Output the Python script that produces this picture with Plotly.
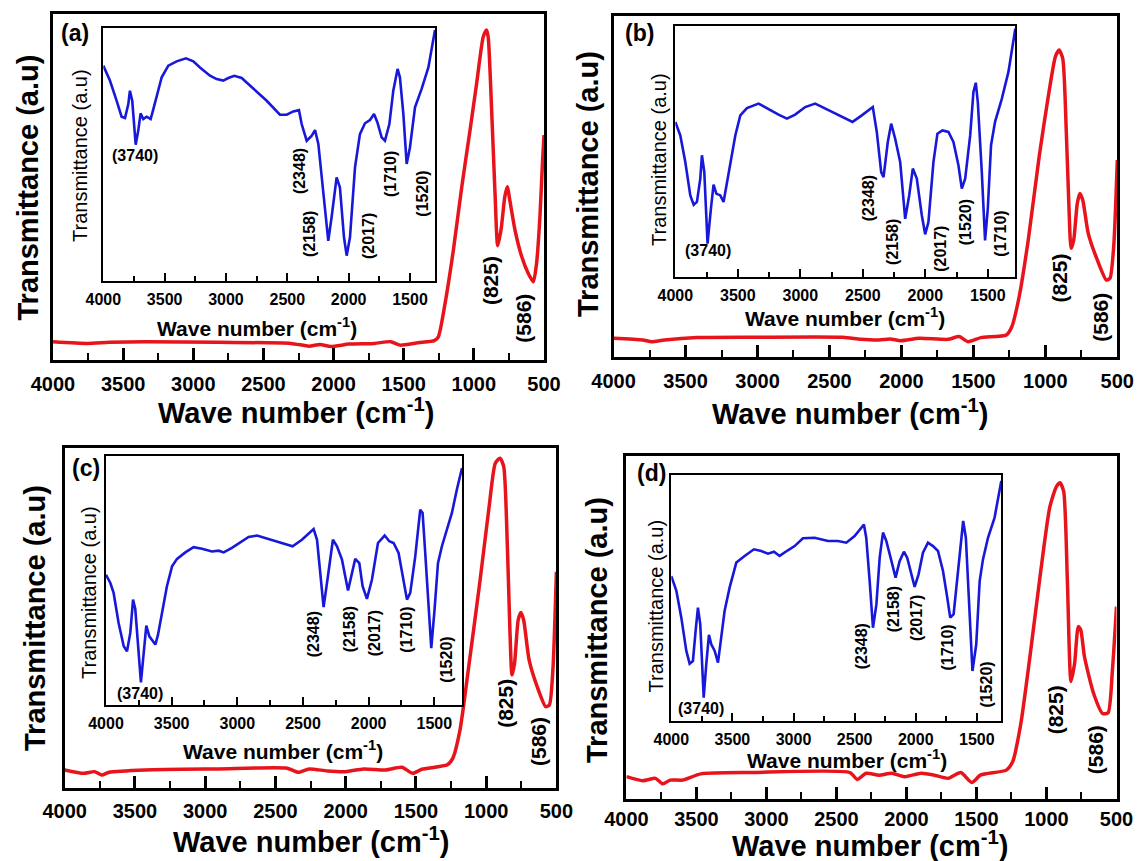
import plotly.graph_objects as go

FONT = "Liberation Sans, Arial, Helvetica, sans-serif"
W, H = 1138, 861
RED = "rgb(232,20,28)"
BLUE = "rgb(24,24,218)"

main_ticks = [4000, 3500, 3000, 2500, 2000, 1500, 1000, 500]
inset_ticks = [4000, 3500, 3000, 2500, 2000, 1500]

# ---------------- Panel (a) ----------------
a_main_wn = [4000, 3754, 3599, 3340, 2822, 2304, 2175, 2097, 2019, 1890, 1709, 1592, 1527, 1398, 1282,
             1253, 1205, 1146, 1086, 1027, 980, 933, 909, 897, 873, 849, 830, 805, 780, 762, 743, 707,
             659, 612, 576, 553, 529, 510, 500]
a_main_t = [5.3, 4.8, 5.1, 5.3, 5.1, 4.8, 4.0, 4.5, 3.9, 4.6, 4.8, 5.3, 4.3, 5.0, 5.6,
            6.7, 16.4, 31.8, 50.1, 66.5, 80.0, 93.4, 95.4, 93.0, 72.0, 48.0, 33.0, 38.0, 47.0, 50.1, 46.0, 37.6,
            29.9, 25.0, 22.6, 27.9, 41.4, 57.8, 65.0]
a_ins_wn = [4000, 3946, 3891, 3851, 3823, 3796, 3783, 3764, 3736, 3715, 3696, 3674, 3647, 3614, 3592, 3552,
            3524, 3470, 3402, 3326, 3266, 3212, 3130, 3076, 3022, 2981, 2932, 2872, 2777, 2668, 2560, 2505,
            2451, 2405, 2383, 2342, 2302, 2274, 2247, 2207, 2166, 2139, 2098, 2071, 2038, 2016, 1989, 1948,
            1908, 1867, 1826, 1793, 1766, 1731, 1704, 1668, 1636, 1601, 1582, 1554, 1527, 1500, 1459, 1405,
            1350, 1296]
a_ins_t = [85.1, 79.2, 71.2, 64.9, 64.4, 69.9, 75.2, 71.2, 53.8, 59.4, 66.2, 64.0, 64.9, 64.0, 67.9, 75.2,
           80.5, 85.1, 86.8, 88.0, 86.8, 84.4, 81.1, 79.8, 79.2, 80.2, 81.1, 80.2, 75.9, 71.2, 65.7, 65.7,
           67.0, 67.5, 62.0, 55.4, 57.3, 59.6, 54.1, 35.6, 15.8, 25.1, 40.9, 36.9, 17.2, 9.9, 17.2, 44.9,
           58.0, 62.3, 63.6, 66.0, 62.7, 56.7, 55.4, 62.0, 75.2, 83.8, 80.5, 66.0, 46.2, 52.8, 68.6, 75.9,
           84.4, 99.2]
a_ins_peaks = ["(3740)", "(2348)", "(2158)", "(2017)", "(1710)", "(1520)"]

# ---------------- Panel (b) ----------------
b_main_wn = [4000, 3798, 3735, 3646, 3419, 3040, 2408, 2282, 2155, 2079, 2004, 1877, 1675, 1599, 1536,
             1448, 1271, 1233, 1182, 1119, 1043, 980, 930, 904, 879, 854, 836, 821, 803, 778, 760, 740,
             702, 639, 576, 551, 525, 500]
b_main_t = [5.4, 4.9, 4.4, 4.9, 5.6, 5.7, 5.7, 5.1, 4.9, 5.2, 4.7, 5.4, 5.1, 5.9, 4.4,
            5.6, 6.4, 8.8, 17.6, 34.2, 58.7, 76.3, 88.1, 90.0, 87.5, 65.6, 44.0, 31.8, 34.2, 45.0, 47.9, 46.0,
            36.2, 28.4, 22.5, 23.0, 32.3, 57.7]
b_ins_wn = [4000, 3960, 3920, 3880, 3853, 3827, 3800, 3787, 3768, 3742, 3715, 3694, 3672, 3640, 3614, 3595,
            3560, 3520, 3480, 3427, 3334, 3254, 3174, 3107, 3041, 2961, 2881, 2787, 2667, 2582, 2508, 2420,
            2388, 2353, 2334, 2300, 2273, 2241, 2201, 2161, 2129, 2100, 2068, 2028, 2001, 1975, 1935, 1903,
            1863, 1815, 1775, 1735, 1708, 1681, 1641, 1615, 1596, 1580, 1548, 1522, 1500, 1474, 1442, 1388,
            1335, 1280]
b_ins_t = [61.8, 56.4, 45.8, 32.5, 28.8, 29.9, 39.2, 48.5, 41.8, 13.3, 27.2, 36.8, 33.2, 32.5, 29.9, 35.2,
           45.8, 56.4, 64.4, 67.3, 69.1, 66.8, 64.7, 63.1, 64.7, 67.7, 69.1, 66.8, 63.7, 61.8, 64.4, 67.7,
           57.8, 41.8, 39.8, 53.8, 61.1, 55.1, 45.8, 23.2, 32.5, 43.2, 39.2, 24.6, 17.0, 21.9, 45.8, 57.1,
           58.4, 57.8, 53.8, 44.5, 35.2, 39.2, 56.4, 73.7, 77.4, 69.7, 41.8, 14.6, 27.2, 52.5, 61.8, 71.0,
           81.7, 98.9]
b_ins_peaks = ["(3740)", "(2348)", "(2158)", "(2017)", "(1520)", "(1710)"]

# ---------------- Panel (c) ----------------
c_main_wn = [4000, 3865, 3788, 3736, 3684, 3425, 2907, 2416, 2338, 2260, 2131, 2001, 1872, 1717, 1600,
             1522, 1458, 1276, 1238, 1186, 1121, 1043, 979, 935, 901, 875, 849, 831, 816, 798, 772, 753,
             733, 694, 628, 576, 550, 525, 500]
c_main_t = [5.4, 4.4, 4.9, 3.9, 4.7, 5.4, 5.7, 5.9, 4.7, 5.7, 5.1, 4.9, 5.7, 5.4, 6.2,
            4.4, 5.6, 6.9, 8.8, 17.2, 36.8, 61.3, 82.8, 95.6, 97.1, 94.6, 71.1, 46.6, 33.3, 36.8, 49.5, 51.7,
            49.5, 37.7, 28.9, 24.0, 24.5, 34.8, 63.7]
c_ins_wn = [4000, 3967, 3942, 3904, 3865, 3840, 3815, 3794, 3777, 3751, 3734, 3713, 3693, 3670, 3650, 3624,
            3604, 3574, 3536, 3497, 3459, 3396, 3333, 3269, 3193, 3142, 3104, 3041, 2977, 2914, 2850, 2761,
            2647, 2579, 2508, 2419, 2393, 2368, 2343, 2310, 2272, 2241, 2203, 2157, 2127, 2102, 2071, 2046,
            2013, 1975, 1929, 1878, 1843, 1810, 1772, 1739, 1708, 1683, 1645, 1607, 1589, 1569, 1543, 1523,
            1498, 1472, 1442, 1404, 1366, 1328, 1289]
c_ins_t = [52.3, 49.0, 45.0, 32.9, 23.5, 21.5, 28.9, 42.3, 38.5, 18.1, 9.0, 20.8, 31.8, 27.5, 26.2, 24.2,
           28.2, 36.9, 47.7, 55.7, 58.7, 61.3, 63.4, 62.8, 61.7, 62.0, 61.3, 63.1, 65.4, 67.5, 68.1, 66.7,
           65.1, 63.8, 66.4, 70.7, 66.4, 53.0, 39.3, 51.7, 66.4, 63.8, 58.4, 46.0, 53.0, 58.7, 57.0, 47.7,
           42.6, 50.3, 65.1, 68.1, 65.8, 65.1, 61.1, 51.7, 42.3, 45.0, 59.7, 78.5, 77.2, 61.1, 38.3, 22.8,
           38.3, 57.0, 63.8, 70.5, 77.2, 86.6, 95.3]
c_ins_peaks = ["(3740)", "(2348)", "(2158)", "(2017)", "(1710)", "(1520)"]

# ---------------- Panel (d) ----------------
d_main_wn = [4000, 3883, 3792, 3740, 3688, 3598, 3468, 3104, 2403, 2352, 2287, 2196, 2105, 2014, 1897,
             1806, 1703, 1612, 1534, 1469, 1287, 1241, 1183, 1118, 1040, 976, 929, 903, 877, 851, 825,
             799, 773, 755, 729, 664, 599, 560, 529, 500]
d_main_t = [6.6, 5.4, 6.1, 4.5, 5.6, 5.6, 7.4, 7.8, 7.8, 5.8, 7.6, 7.0, 7.6, 6.6, 7.6,
            7.1, 6.1, 7.8, 4.9, 7.1, 8.5, 11.0, 22.1, 41.6, 66.8, 85.2, 91.1, 92.2, 89.6, 63.9, 34.3,
            39.6, 50.3, 49.3, 41.6, 30.9, 25.0, 25.2, 37.7, 56.1]
d_ins_wn = [4000, 3959, 3918, 3877, 3850, 3823, 3801, 3782, 3763, 3735, 3714, 3692, 3673, 3645, 3618, 3599,
            3564, 3523, 3468, 3400, 3324, 3264, 3209, 3160, 3114, 3046, 2991, 2923, 2827, 2718, 2637, 2568,
            2500, 2424, 2405, 2377, 2350, 2322, 2295, 2268, 2241, 2206, 2165, 2132, 2097, 2070, 2037, 2009,
            1977, 1941, 1900, 1859, 1818, 1777, 1742, 1718, 1690, 1663, 1631, 1612, 1590, 1563, 1536, 1505,
            1477, 1450, 1409, 1355, 1300]
d_ins_t = [58.9, 53.0, 42.0, 28.5, 23.3, 24.4, 36.6, 46.1, 39.3, 9.5, 23.0, 35.0, 31.2, 28.5, 23.7, 31.2,
           44.7, 54.2, 64.4, 67.1, 69.8, 69.1, 68.0, 68.8, 67.1, 69.4, 71.1, 74.3, 74.5, 73.2, 73.2, 72.5,
           75.2, 79.9, 74.5, 56.9, 37.9, 47.4, 66.4, 76.6, 73.2, 66.4, 58.3, 65.0, 68.8, 66.4, 59.6, 54.5,
           59.6, 68.4, 72.5, 71.1, 69.1, 61.0, 50.1, 42.0, 43.4, 56.9, 74.5, 81.3, 74.5, 50.1, 20.3, 31.2,
           56.9, 65.7, 74.5, 82.7, 97.6]
d_ins_peaks = ["(3740)", "(2348)", "(2158)", "(2017)", "(1710)", "(1520)"]

main_peaks = ["(825)", "(586)"]
XT = "Wave number (cm<sup>-1</sup>)"
YT = "Transmittance (a.u)"

# ---------------- layout geometry (page pixels) ----------------
panels = [
    dict(tag="(a)", main=(a_main_wn, a_main_t), ins=(a_ins_wn, a_ins_t), peaks=a_ins_peaks,
         mx=(53, 544), my=(14, 360), ix=(103.3, 435), iy=(28, 280.7), irange=(4000, 1296), tagxy=(75, 33),
         mxt=(296, 411), myt=(27.5, 188), ixt=(257, 327), iyt=(80, 156), tstand=4,
         ipos=[(3742, 49.5), (2402, 43.5), (2315, 18.5), (1840, 17.8), (1663, 42.2), (1405, 34.3)],
         mpos=[(885, 23.1), (648, 12.0)]),
    dict(tag="(b)", main=(b_main_wn, b_main_t), ins=(b_ins_wn, b_ins_t), peaks=b_ins_peaks,
         mx=(613.6, 1117.3), my=(16, 356.7), ix=(675.3, 1015.3), iy=(26, 277), irange=(4000, 1280), tagxy=(639, 33),
         mxt=(850, 412), myt=(588, 184), ixt=(845, 317), iyt=(659, 160), tstand=4,
         ipos=[(3739, 10.6), (2454, 31.2), (2268, 13.9), (1881, 11.3), (1681, 21.9), (1394, 17.3)],
         mpos=[(904, 23.0), (614, 11.7)]),
    dict(tag="(c)", main=(c_main_wn, c_main_t), ins=(c_ins_wn, c_ins_t), peaks=c_ins_peaks,
         mx=(64.7, 556.4), my=(448.3, 788.3), ix=(106, 462), iy=(456.3, 704.7), irange=(4000, 1289), tagxy=(86, 468),
         mxt=(311, 840), myt=(35, 618), ixt=(283, 750), iyt=(89, 593), tstand=3,
         ipos=[(3739, 4.7), (2419, 28.2), (2145, 30.2), (1949, 28.9), (1708, 30.2), (1404, 18.1)],
         mpos=[(862, 25.0), (629, 13.7)]),
    dict(tag="(d)", main=(d_main_wn, d_main_t), ins=(d_ins_wn, d_ins_t), peaks=d_ins_peaks,
         mx=(626.4, 1116.5), my=(456, 799.3), ix=(671.3, 1001.3), iy=(475, 721), irange=(4000, 1300), tagxy=(651, 473),
         mxt=(870, 844), myt=(597, 630), ixt=(847, 759), iyt=(655.5, 606), tstand=0,
         ipos=[(3755, 5.1), (2437, 30.5), (2187, 45.4), (1996, 42.0), (1737, 29.8), (1423, 14.9)],
         mpos=[(937, 26.0), (651, 14.4)]),
]


def fx(px):
    return px / W


def fy(py):
    return 1 - py / H


fig = go.Figure()
layout = dict(width=W, height=H, margin=dict(l=0, r=0, t=0, b=0), template="none",
              paper_bgcolor="white", plot_bgcolor="rgba(0,0,0,0)", showlegend=False,
              font=dict(family=FONT, color="black"), hovermode=False)
annotations = []


def txt(text, x, y, size, bold=True, angle=0, xref="paper", yref="paper"):
    f = dict(size=size, family=FONT, color="black")
    if bold:
        f["weight"] = "bold"
    return dict(text=text, x=x, y=y, xref=xref, yref=yref, showarrow=False, textangle=angle,
                xanchor="center", yanchor="middle", font=f)


for i, p in enumerate(panels):
    mi, ii = 2 * i + 1, 2 * i + 2
    mxn = "x" if mi == 1 else f"x{mi}"
    myn = "y" if mi == 1 else f"y{mi}"
    ixn, iyn = f"x{ii}", f"y{ii}"
    mxk = "xaxis" if mi == 1 else f"xaxis{mi}"
    myk = "yaxis" if mi == 1 else f"yaxis{mi}"
    ixk, iyk = f"xaxis{ii}", f"yaxis{ii}"

    fig.add_trace(go.Scatter(x=p["main"][0], y=p["main"][1], mode="lines", xaxis=mxn, yaxis=myn,
                             line=dict(color=RED, width=3.5, shape="spline", smoothing=0.6), hoverinfo="skip"))
    fig.add_trace(go.Scatter(x=p["ins"][0], y=p["ins"][1], mode="lines", xaxis=ixn, yaxis=iyn,
                             line=dict(color=BLUE, width=2.6), hoverinfo="skip"))

    layout[mxk] = dict(domain=[fx(p["mx"][0]), fx(p["mx"][1])], anchor=myn, range=[4000, 500],
                       tickmode="array", tickvals=main_ticks, ticks="inside", ticklen=12, tickwidth=2.5,
                       tickcolor="black", ticklabelstandoff=p["tstand"],
                       minor=dict(tickmode="linear", tick0=0, dtick=250, ticks="inside", ticklen=7,
                                  tickwidth=2, tickcolor="black"),
                       showline=True, linewidth=3, linecolor="black", mirror=True, showgrid=False,
                       zeroline=False, automargin=False, fixedrange=True,
                       tickfont=dict(size=20, family=FONT, weight="bold", color="black"))
    layout[myk] = dict(domain=[fy(p["my"][1]), fy(p["my"][0])], anchor=mxn, range=[0, 100],
                       showticklabels=False, ticks="", showline=True, linewidth=3, linecolor="black",
                       mirror=True, showgrid=False, zeroline=False, automargin=False, fixedrange=True)
    layout[ixk] = dict(domain=[fx(p["ix"][0]), fx(p["ix"][1])], anchor=iyn, range=list(p["irange"]),
                       tickmode="array", tickvals=inset_ticks, ticks="inside", ticklen=8, tickwidth=2,
                       tickcolor="black", ticklabelstandoff=3,
                       minor=dict(tickmode="linear", tick0=0, dtick=250, ticks="inside", ticklen=5,
                                  tickwidth=1.5, tickcolor="black"),
                       showline=True, linewidth=2, linecolor="black", mirror=True, showgrid=False,
                       zeroline=False, automargin=False, fixedrange=True,
                       tickfont=dict(size=16, family=FONT, weight="bold", color="black"))
    layout[iyk] = dict(domain=[fy(p["iy"][1]), fy(p["iy"][0])], anchor=ixn, range=[0, 100],
                       showticklabels=False, ticks="", showline=True, linewidth=2, linecolor="black",
                       mirror=True, showgrid=False, zeroline=False, automargin=False, fixedrange=True)

    # axis titles
    annotations.append(txt(XT, fx(p["mxt"][0]), fy(p["mxt"][1]), 29))
    annotations.append(txt(YT, fx(p["myt"][0]), fy(p["myt"][1]), 29, angle=-90))
    annotations.append(txt(XT, fx(p["ixt"][0]), fy(p["ixt"][1]), 21))
    annotations.append(txt(YT, fx(p["iyt"][0]), fy(p["iyt"][1]), 20, bold=False, angle=-90))
    # panel tag
    annotations.append(txt(p["tag"], fx(p["tagxy"][0]), fy(p["tagxy"][1]), 23))
    # inset peak labels
    for k, (lab, pos) in enumerate(zip(p["peaks"], p["ipos"])):
        annotations.append(txt(lab, pos[0], pos[1], 16, angle=0 if k == 0 else -90, xref=ixn, yref=iyn))
    # main peak labels
    for lab, pos in zip(main_peaks, p["mpos"]):
        annotations.append(txt(lab, pos[0], pos[1], 21, angle=-90, xref=mxn, yref=myn))

layout["annotations"] = annotations
fig.update_layout(**layout)
fig.write_html("out.html", config={"displayModeBar": False},
               post_script="document.body.style.margin='0';document.body.style.overflow='hidden';")
